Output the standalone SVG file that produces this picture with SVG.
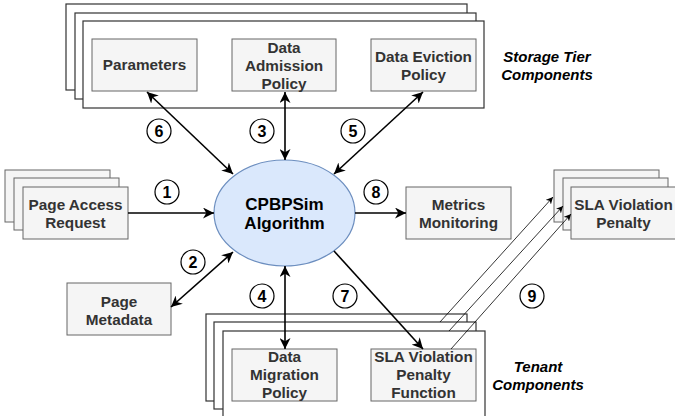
<svg xmlns="http://www.w3.org/2000/svg" width="675" height="416" viewBox="0 0 675 416">
<style>
.bx{fill:#f5f5f5;stroke:#666;stroke-width:1}
.fr{fill:#fff;stroke:#333;stroke-width:1.2}
.t{font-family:"Liberation Sans",Arial,sans-serif;font-weight:bold;font-size:15.3px;fill:#333;text-anchor:middle}
.lab{font-family:"Liberation Sans",Arial,sans-serif;font-weight:bold;font-style:italic;font-size:15px;fill:#000;text-anchor:middle}
.big{font-family:"Liberation Sans",Arial,sans-serif;font-weight:bold;font-size:17px;fill:#000;text-anchor:middle}
.num{font-family:"Liberation Sans",Arial,sans-serif;font-weight:bold;font-size:16px;fill:#000;text-anchor:middle}
.nc{fill:#fff;stroke:#000;stroke-width:1.2}
.a{stroke:#000;stroke-width:1.6;fill:none}
.thin{stroke:#000;stroke-width:0.8;fill:none}
</style>
<defs>
<marker id="ah" viewBox="0 0 10 10" refX="10" refY="5" markerWidth="11" markerHeight="11" markerUnits="userSpaceOnUse" orient="auto-start-reverse">
<path d="M0,0 L10,5 L0,10 L3,5 z" fill="#000"/>
</marker>
<marker id="sh" viewBox="0 0 10 10" refX="10" refY="5" markerWidth="7" markerHeight="7" markerUnits="userSpaceOnUse" orient="auto">
<path d="M0,0 L10,5 L0,10 L3,5 z" fill="#000"/>
</marker>
</defs>

<g id="storage-tier">
<rect class="fr" x="66" y="4" width="401" height="86"/>
<rect class="fr" x="75" y="13" width="401" height="86"/>
<rect class="fr" x="83" y="21" width="401" height="87"/>
<text class="lab" x="547" y="62">Storage Tier</text>
<text class="lab" x="547" y="80">Components</text>
</g>
<g id="parameters">
<rect class="bx" x="92" y="39" width="105" height="52"/>
<text class="t" x="144.5" y="70">Parameters</text>
</g>
<g id="data-admission">
<rect class="bx" x="232" y="39" width="104" height="52"/>
<text class="t" x="284" y="53">Data</text>
<text class="t" x="284" y="71">Admission</text>
<text class="t" x="284" y="89">Policy</text>
</g>
<g id="data-eviction">
<rect class="bx" x="371" y="39" width="105" height="52"/>
<text class="t" x="423.5" y="62">Data Eviction</text>
<text class="t" x="423.5" y="80">Policy</text>
</g>

<g id="page-access-request">
<rect class="bx" x="5" y="170" width="105" height="52"/>
<rect class="bx" x="14" y="178" width="105" height="52"/>
<rect class="bx" x="23" y="187" width="105" height="52"/>
<text class="t" x="75.5" y="210">Page Access</text>
<text class="t" x="75.5" y="228">Request</text>
</g>
<g id="page-metadata">
<rect class="bx" x="67" y="283" width="104" height="52"/>
<text class="t" x="119" y="307">Page</text>
<text class="t" x="119" y="325">Metadata</text>
</g>
<g id="algorithm">
<ellipse cx="284.5" cy="213" rx="70.5" ry="53" fill="#dae8fc" stroke="#6c8ebf" stroke-width="1.2"/>
<text class="big" x="284.5" y="210">CPBPSim</text>
<text class="big" x="284.5" y="229">Algorithm</text>
</g>
<g id="metrics-monitoring">
<rect class="bx" x="406" y="187" width="105" height="52"/>
<text class="t" x="458.5" y="210">Metrics</text>
<text class="t" x="458.5" y="228">Monitoring</text>
</g>
<g id="sla-violation-penalty">
<rect class="bx" x="554" y="170" width="105" height="52"/>
<rect class="bx" x="563" y="178" width="105" height="52"/>
<rect class="bx" x="571" y="187" width="105" height="52"/>
<text class="t" x="623.5" y="210">SLA Violation</text>
<text class="t" x="623.5" y="228">Penalty</text>
</g>

<g id="tenant">
<rect class="fr" x="206" y="314" width="261" height="87"/>
<rect class="fr" x="214" y="322" width="262" height="87"/>
<rect class="fr" x="223" y="331" width="262" height="100"/>
<text class="lab" x="538" y="372">Tenant</text>
<text class="lab" x="538" y="390">Components</text>
</g>
<g id="data-migration">
<rect class="bx" x="232" y="349" width="105" height="52"/>
<text class="t" x="284.5" y="362">Data</text>
<text class="t" x="284.5" y="380">Migration</text>
<text class="t" x="284.5" y="398">Policy</text>
</g>
<g id="sla-function">
<rect class="bx" x="371" y="349" width="105" height="52"/>
<text class="t" x="423.5" y="362">SLA Violation</text>
<text class="t" x="423.5" y="380">Penalty</text>
<text class="t" x="423.5" y="398">Function</text>
</g>

<g id="connectors">
<line class="a" x1="233" y1="174" x2="147" y2="92" marker-start="url(#ah)" marker-end="url(#ah)"/>
<line class="a" x1="285" y1="160" x2="285" y2="92" marker-start="url(#ah)" marker-end="url(#ah)"/>
<line class="a" x1="334" y1="174" x2="423" y2="92" marker-start="url(#ah)" marker-end="url(#ah)"/>
<line class="a" x1="128" y1="213" x2="214" y2="213" marker-end="url(#ah)"/>
<line class="a" x1="233" y1="252" x2="171" y2="307" marker-start="url(#ah)" marker-end="url(#ah)"/>
<line class="a" x1="285" y1="266" x2="285" y2="349" marker-start="url(#ah)" marker-end="url(#ah)"/>
<line class="a" x1="334" y1="251" x2="423" y2="349" marker-end="url(#ah)"/>
<line class="a" x1="355" y1="213" x2="406" y2="213" marker-end="url(#ah)"/>
<line class="thin" x1="440" y1="322" x2="553" y2="197" marker-end="url(#sh)"/>
<line class="thin" x1="449" y1="331" x2="563" y2="206" marker-end="url(#sh)"/>
<line class="thin" x1="451" y1="349" x2="571" y2="214" marker-end="url(#sh)"/>
</g>

<g id="step-labels">
<circle class="nc" cx="167" cy="192" r="12"/><text class="num" x="167" y="198">1</text>
<circle class="nc" cx="193" cy="262" r="12"/><text class="num" x="193" y="268">2</text>
<circle class="nc" cx="262" cy="131" r="12"/><text class="num" x="262" y="137">3</text>
<circle class="nc" cx="262" cy="296" r="12"/><text class="num" x="262" y="302">4</text>
<circle class="nc" cx="353" cy="131" r="12"/><text class="num" x="353" y="137">5</text>
<circle class="nc" cx="159" cy="131" r="12"/><text class="num" x="159" y="137">6</text>
<circle class="nc" cx="345" cy="296" r="12"/><text class="num" x="345" y="302">7</text>
<circle class="nc" cx="376" cy="192" r="12"/><text class="num" x="376" y="198">8</text>
<circle class="nc" cx="532" cy="296" r="12"/><text class="num" x="532" y="302">9</text>
</g>
</svg>
